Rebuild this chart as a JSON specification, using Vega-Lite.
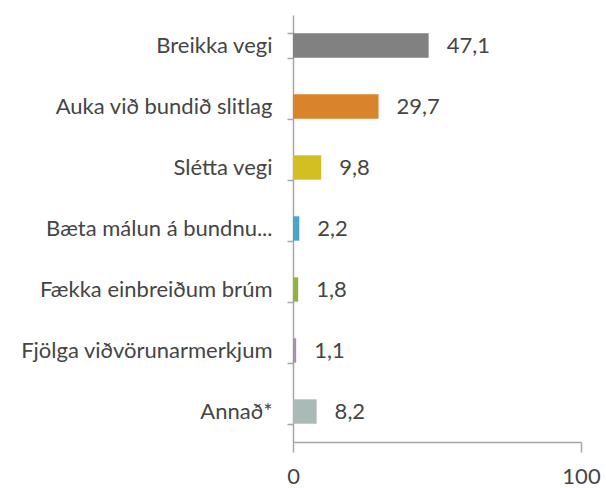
{
  "$schema": "https://vega.github.io/schema/vega-lite/v6.json",
  "width": 288,
  "height": 427,
  "autosize": "none",
  "padding": {"left": 293, "top": 15, "right": 25, "bottom": 46},
  "background": "white",
  "config": {
    "view": {"stroke": null},
    "locale": {"number": {"decimal": ",", "thousands": ".", "grouping": [3], "currency": ["", " kr"]}},
    "font": "Lato"
  },
  "data": {
    "values": [
      {"flokkur": "Breikka vegi", "hlutfall": 47.1, "litur": "#818181"},
      {"flokkur": "Auka við bundið slitlag", "hlutfall": 29.7, "litur": "#d9832b"},
      {"flokkur": "Slétta vegi", "hlutfall": 9.8, "litur": "#d4bf22"},
      {"flokkur": "Bæta málun á bundnu...", "hlutfall": 2.2, "litur": "#4aa5cb"},
      {"flokkur": "Fækka einbreiðum brúm", "hlutfall": 1.8, "litur": "#93b242"},
      {"flokkur": "Fjölga viðvörunarmerkjum", "hlutfall": 1.1, "litur": "#a88cb2"},
      {"flokkur": "Annað*", "hlutfall": 8.2, "litur": "#aabab6"}
    ]
  },
  "encoding": {
    "y": {
      "field": "flokkur",
      "type": "nominal",
      "sort": null,
      "title": null,
      "scale": {"paddingInner": 0.6, "paddingOuter": 0.3},
      "axis": {
        "tickBand": "extent",
        "domainColor": "#a6a6a6",
        "domainWidth": 1.5,
        "tickColor": "#a6a6a6",
        "tickWidth": 1.5,
        "tickSize": 6,
        "labelFontSize": 22,
        "labelFontWeight": "normal",
        "labelColor": "#454545",
        "labelPadding": 15,
        "labelLimit": 320
      }
    },
    "x": {
      "field": "hlutfall",
      "type": "quantitative",
      "title": null,
      "scale": {"domain": [0, 100], "nice": false},
      "axis": {
        "values": [0, 100],
        "grid": false,
        "domainColor": "#a6a6a6",
        "domainWidth": 1.5,
        "tickColor": "#a6a6a6",
        "tickWidth": 1.5,
        "tickSize": 10,
        "labelFontSize": 22,
        "labelFontWeight": "normal",
        "labelColor": "#454545",
        "labelPadding": 14,
        "labelFlush": false
      }
    }
  },
  "layer": [
    {
      "mark": {"type": "bar"},
      "encoding": {
        "color": {"field": "litur", "type": "nominal", "scale": null}
      }
    },
    {
      "mark": {"type": "text", "align": "left", "baseline": "middle", "dx": 18, "fontSize": 22, "fontWeight": "normal", "color": "#454545"},
      "encoding": {
        "text": {"field": "hlutfall", "type": "quantitative", "format": ".1f"}
      }
    }
  ]
}
